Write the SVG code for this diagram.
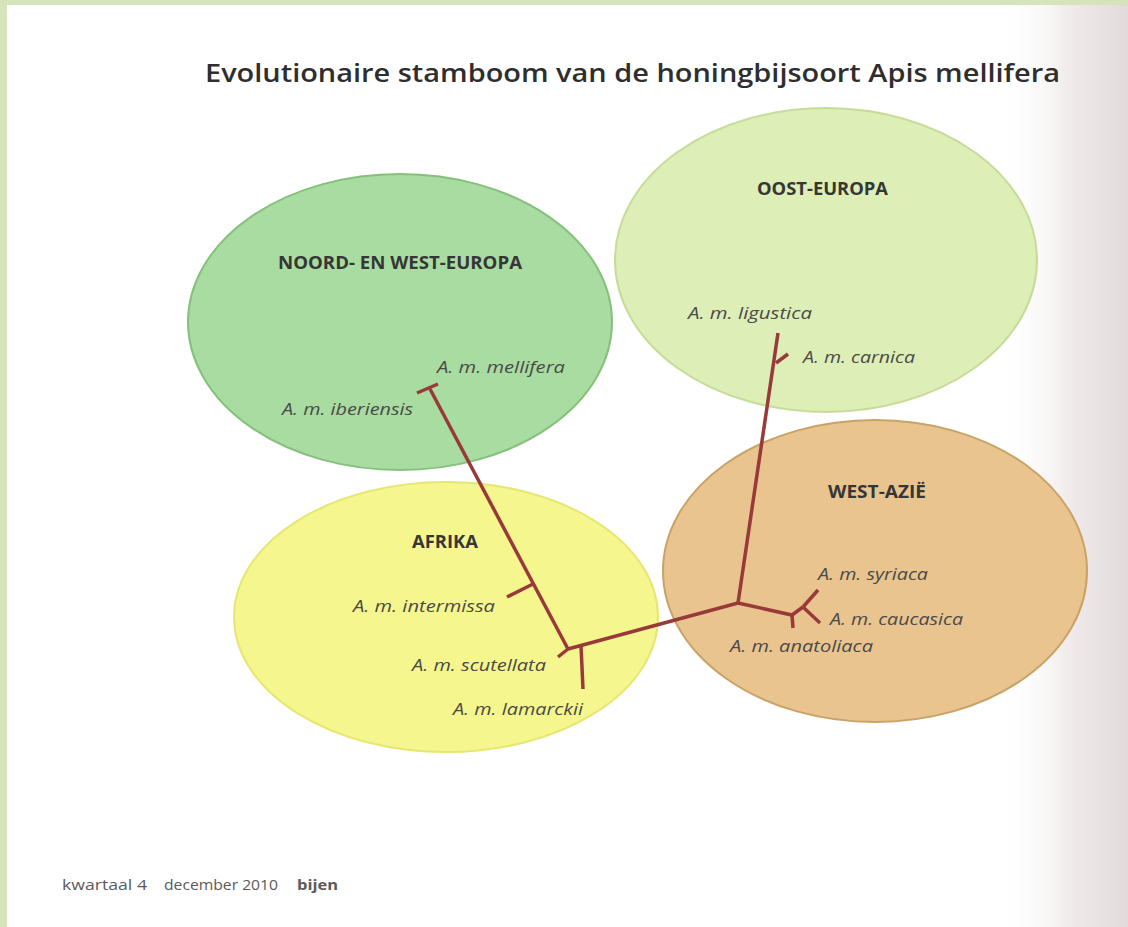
<svg xmlns="http://www.w3.org/2000/svg" width="1128" height="927" viewBox="0 0 1128 927">
  <defs>
    <linearGradient id="shade" x1="0" y1="0" x2="1" y2="0">
      <stop offset="0" stop-color="#ffffff" stop-opacity="0"/>
      <stop offset="0.55" stop-color="#f0eaea"/>
      <stop offset="1" stop-color="#e2dadb"/>
    </linearGradient>
    <style>
      .region { font-family: "Open Sans", "Liberation Sans", sans-serif; font-weight: 700; font-size: 17px; fill: #363636; }
      .species { font-family: "Open Sans", "Liberation Sans", sans-serif; font-style: italic; font-size: 17px; fill: #4a4a4a; }
      .title { font-family: "Open Sans", "Liberation Sans", sans-serif; font-weight: 600; font-size: 26px; fill: #2e2e2e; }
      .foot { font-family: "Open Sans", "Liberation Sans", sans-serif; font-size: 15px; fill: #5a5a5a; }
      .branch { fill: none; stroke: #983a3a; stroke-width: 3.5; stroke-linecap: butt; stroke-linejoin: miter; }
    </style>
  </defs>

  <!-- page background -->
  <rect x="0" y="0" width="1128" height="927" fill="#ffffff"/>
  <rect x="1000" y="0" width="128" height="927" fill="url(#shade)"/>
  <rect x="0" y="0" width="1128" height="5" fill="#d6e4bc"/>
  <rect x="0" y="0" width="7" height="927" fill="#d6e4bc"/>

  <text class="title" x="205" y="82" textLength="855" lengthAdjust="spacingAndGlyphs">Evolutionaire stamboom van de honingbijsoort Apis mellifera</text>

  <!-- regions -->
  <g id="noord-west-europa">
    <ellipse cx="400" cy="322" rx="212" ry="148" fill="#a9dca1" stroke="#86c07c" stroke-width="2"/>
    <text class="region" x="278" y="269" textLength="244" lengthAdjust="spacingAndGlyphs">NOORD- EN WEST-EUROPA</text>
  </g>
  <g id="oost-europa">
    <ellipse cx="826" cy="260" rx="211" ry="152" fill="#ddeeb6" stroke="#c6dc98" stroke-width="2"/>
    <text class="region" x="757" y="195" textLength="131" lengthAdjust="spacingAndGlyphs">OOST-EUROPA</text>
  </g>
  <g id="afrika">
    <ellipse cx="446" cy="617" rx="212" ry="135" fill="#f6f68e" stroke="#e6e672" stroke-width="2"/>
    <text class="region" x="412" y="548" textLength="66" lengthAdjust="spacingAndGlyphs">AFRIKA</text>
  </g>
  <g id="west-azie">
    <ellipse cx="875" cy="571" rx="212" ry="151" fill="#e9c48e" stroke="#c9a266" stroke-width="2"/>
    <text class="region" x="828" y="498" textLength="98" lengthAdjust="spacingAndGlyphs">WEST-AZIË</text>
  </g>

  <!-- connectors: tree branches -->
  <g id="connectors">
    <path class="branch" d="M417,393 L438,384"/>
    <path class="branch" d="M430,389 L568,649"/>
    <path class="branch" d="M533,584 L507,597"/>
    <path class="branch" d="M568,649 L558,657"/>
    <path class="branch" d="M568,649 L738,603"/>
    <path class="branch" d="M581,646 L583,689"/>
    <path class="branch" d="M738,603 L778,333"/>
    <path class="branch" d="M776,363 L788,354"/>
    <path class="branch" d="M738,603 L792,615 L803,607"/>
    <path class="branch" d="M803,607 L818,590"/>
    <path class="branch" d="M803,607 L820,623"/>
    <path class="branch" d="M792,615 L793,628"/>
  </g>

  <!-- species labels -->
  <g id="sp-mellifera"><text class="species" x="437" y="373" textLength="128" lengthAdjust="spacingAndGlyphs">A. m. mellifera</text></g>
  <g id="sp-iberiensis"><text class="species" x="282" y="415" textLength="131" lengthAdjust="spacingAndGlyphs">A. m. iberiensis</text></g>
  <g id="sp-ligustica"><text class="species" x="688" y="319" textLength="124" lengthAdjust="spacingAndGlyphs">A. m. ligustica</text></g>
  <g id="sp-carnica"><text class="species" x="803" y="363" textLength="112" lengthAdjust="spacingAndGlyphs">A. m. carnica</text></g>
  <g id="sp-intermissa"><text class="species" x="353" y="612" textLength="142" lengthAdjust="spacingAndGlyphs">A. m. intermissa</text></g>
  <g id="sp-scutellata"><text class="species" x="412" y="671" textLength="134" lengthAdjust="spacingAndGlyphs">A. m. scutellata</text></g>
  <g id="sp-lamarckii"><text class="species" x="453" y="715" textLength="130" lengthAdjust="spacingAndGlyphs">A. m. lamarckii</text></g>
  <g id="sp-syriaca"><text class="species" x="818" y="580" textLength="110" lengthAdjust="spacingAndGlyphs">A. m. syriaca</text></g>
  <g id="sp-caucasica"><text class="species" x="830" y="625" textLength="133" lengthAdjust="spacingAndGlyphs">A. m. caucasica</text></g>
  <g id="sp-anatoliaca"><text class="species" x="730" y="652" textLength="143" lengthAdjust="spacingAndGlyphs">A. m. anatoliaca</text></g>

  <!-- footer -->
  <text class="foot" x="62" y="890" textLength="85" lengthAdjust="spacingAndGlyphs">kwartaal 4</text>
  <text class="foot" x="164" y="890" textLength="114" lengthAdjust="spacingAndGlyphs">december 2010</text>
  <text class="foot" x="297" y="890" font-weight="700" textLength="41" lengthAdjust="spacingAndGlyphs">bijen</text>
</svg>
